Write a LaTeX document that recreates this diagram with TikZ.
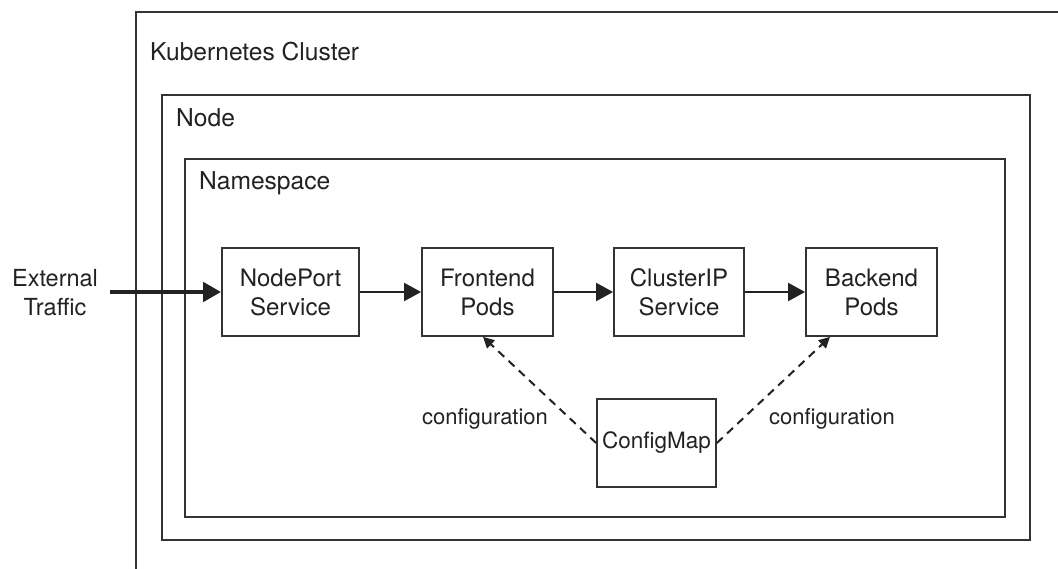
\documentclass[tikz,border=0pt]{standalone}
\usepackage{fontspec}
\setmainfont{TeX Gyre Heros}
\usetikzlibrary{arrows.meta}
\definecolor{ink}{HTML}{222222}
\definecolor{frame}{HTML}{333333}
\tikzset{
  container/.style={draw=frame, line width=2pt, inner sep=0pt},
  title/.style={anchor=base west, inner sep=0pt, font=\fontsize{24.6}{29}\selectfont, text=ink},
  svcbox/.style={draw=frame, line width=1.8pt, minimum height=88pt, align=center,
    inner sep=0pt, font=\fontsize{24}{29}\selectfont, text=ink},
  flow/.style={draw=ink, line width=2pt, -{Triangle[length=17pt,width=18pt]}},
  ingress/.style={draw=ink, line width=4.5pt, -{Triangle[length=18pt,width=19pt]}},
  cfg/.style={draw=ink, line width=2pt, dash pattern=on 8pt off 6pt,
    -{Triangle[length=11pt,width=11pt]}},
  note/.style={font=\fontsize{22}{29}\selectfont, text=ink, align=center, inner sep=0pt}
}
\begin{document}
\begin{tikzpicture}[x=1pt,y=-1pt]
  \useasboundingbox[fill=white] (0,0) rectangle (1058,569);
  \clip (0,0) rectangle (1058,569);

  % nested containers
  \node[container, minimum width=940pt, minimum height=580pt, anchor=north west] (cluster) at (135,11) {};
  \node[title] (clusterlbl) at (150,61) {Kubernetes Cluster};
  \node[container, minimum width=868pt, minimum height=445pt, anchor=north west] (host) at (161,94) {};
  \node[title] (hostlbl) at (176,127) {Node};
  \node[container, minimum width=820pt, minimum height=358pt, anchor=north west] (ns) at (184,158) {};
  \node[title] (nslbl) at (199,190) {Namespace};

  % services and pods
  \node[svcbox, minimum width=137pt] (nodeport) at (290.5,292) {NodePort\\Service};
  \node[svcbox, minimum width=131pt] (frontend) at (487.5,292) {Frontend\\Pods};
  \node[svcbox, minimum width=130pt] (clusterip) at (679,292) {ClusterIP\\Service};
  \node[svcbox, minimum width=131pt] (backend) at (871.5,292) {Backend\\Pods};
  \node[svcbox, minimum width=119pt, font=\fontsize{22.5}{29}\selectfont] (configmap) at (656.5,443) {ConfigMap};

  % incoming traffic
  \node[note, font=\fontsize{23.5}{29}\selectfont] (ext) at (55,293) {External\\Traffic};
  \coordinate (extstart) at (110,292);
  \draw[ingress] (extstart) -- (nodeport.west);

  % request path
  \draw[flow] (nodeport) -- (frontend);
  \draw[flow] (frontend) -- (clusterip);
  \draw[flow] (clusterip) -- (backend);

  % configuration injection
  \draw[cfg] (configmap.west) -- ([xshift=-4.5pt]frontend.south);
  \draw[cfg] (configmap.east) -- ([xshift=-41.5pt]backend.south);
  \node[note] (cfgl) at (485,419) {configuration};
  \node[note] (cfgr) at (832,419) {configuration};
\end{tikzpicture}
\end{document}
